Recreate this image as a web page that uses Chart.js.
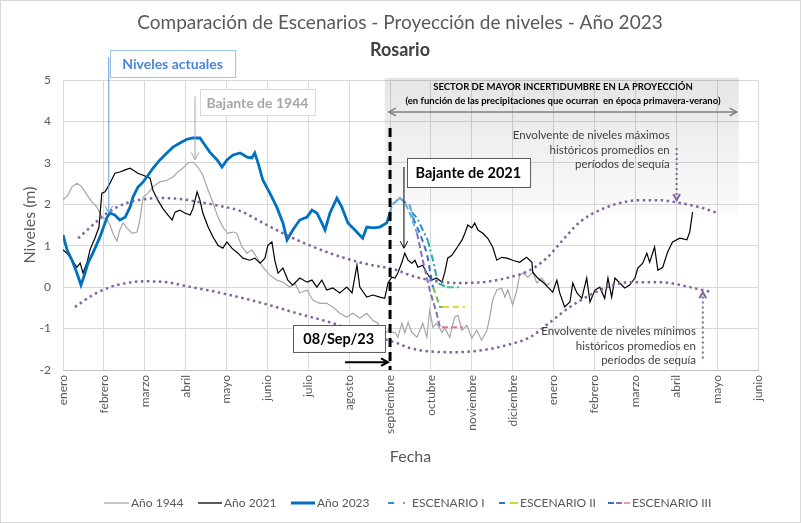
<!DOCTYPE html>
<html>
<head>
<meta charset="utf-8">
<script src="https://cdn.jsdelivr.net/npm/chart.js@4.4.0/dist/chart.umd.min.js"></script>
<style>
html, body { margin: 0; padding: 0; background: #fff; }
canvas { display: block; }
</style>
</head>
<body>
<canvas id="nivelesChart" width="801" height="523"></canvas>
<script>
// eje x en meses (0 = 1 de enero, 12 = 1 de enero del año siguiente)
const meses = ['enero', 'febrero', 'marzo', 'abril', 'mayo', 'junio', 'julio', 'agosto',
    'septiembre', 'octubre', 'noviembre', 'diciembre', 'enero', 'febrero', 'marzo', 'abril', 'mayo', 'junio'];

const anio1944 = [[0.00, 2.10], [0.12, 2.22], [0.22, 2.42], [0.34, 2.51], [0.46, 2.42], [0.59, 2.22], [0.71, 2.05],
    [0.83, 1.93], [0.95, 1.69], [1.08, 1.62], [1.15, 1.50], [1.22, 1.30], [1.32, 1.11], [1.39, 1.38], [1.47, 1.55],
    [1.56, 1.43], [1.69, 1.30], [1.81, 1.33], [1.88, 1.62], [1.96, 2.17], [2.08, 2.27], [2.20, 2.42], [2.37, 2.54],
    [2.54, 2.58], [2.69, 2.66], [2.81, 2.78], [2.93, 2.87], [3.06, 3.00], [3.18, 3.02], [3.30, 2.90], [3.42, 2.70],
    [3.55, 2.34], [3.67, 2.03], [3.79, 1.69], [3.91, 1.45], [4.03, 1.30], [4.16, 1.33], [4.25, 1.30], [4.38, 0.97],
    [4.50, 0.82], [4.62, 0.90], [4.74, 0.72], [4.89, 0.48], [5.06, 0.29], [5.23, 0.17], [5.38, 0.12], [5.55, 0.00],
    [5.67, 0.10], [5.79, -0.14], [5.97, -0.07], [6.11, -0.31], [6.28, -0.39], [6.45, -0.39], [6.60, -0.48],
    [6.77, -0.63], [6.94, -0.72], [7.09, -0.63], [7.26, -0.75], [7.43, -0.63], [7.58, -0.80], [7.70, -0.87],
    [7.82, -1.21], [7.95, -1.04], [8.04, -1.09], [8.12, -1.09], [8.19, -1.21], [8.29, -0.87], [8.36, -1.11],
    [8.44, -0.85], [8.53, -1.09], [8.66, -1.21], [8.73, -1.04], [8.80, -0.87], [8.90, -1.21], [8.97, -0.56],
    [9.05, -0.97], [9.14, -0.87], [9.27, -1.09], [9.34, -0.99], [9.46, -1.21], [9.58, -0.72], [9.66, -0.68],
    [9.76, -1.04], [9.88, -0.92], [10.00, -1.23], [10.12, -1.04], [10.24, -1.28], [10.37, -1.04], [10.44, -0.72],
    [10.51, -0.31], [10.61, -0.07], [10.73, -0.02], [10.81, -0.24], [10.88, -0.07], [11.00, -0.43], [11.10, -0.07],
    [11.17, 0.29], [11.25, 0.34], [11.37, 0.24], [11.49, 0.36], [11.59, 0.10], [11.71, 0.22], [11.83, 0.05],
    [11.91, 0.10]];

const anio2021 = [[0.00, 0.90], [0.10, 0.82], [0.22, 0.65], [0.34, 0.48], [0.42, 0.58], [0.49, 0.34], [0.59, 0.60],
    [0.66, 0.90], [0.78, 1.18], [0.88, 1.45], [0.95, 2.27], [1.03, 2.30], [1.15, 2.51], [1.27, 2.75], [1.39, 2.78],
    [1.52, 2.83], [1.64, 2.87], [1.71, 2.83], [1.83, 2.75], [1.96, 2.70], [2.13, 2.63], [2.20, 2.34], [2.32, 2.10],
    [2.44, 1.90], [2.57, 1.74], [2.67, 1.62], [2.74, 1.81], [2.86, 1.86], [2.98, 1.79], [3.11, 1.74], [3.18, 1.90],
    [3.28, 2.30], [3.35, 2.10], [3.42, 1.79], [3.55, 1.45], [3.67, 1.21], [3.79, 1.01], [3.91, 0.94], [4.01, 1.09],
    [4.13, 0.94], [4.28, 0.82], [4.40, 0.70], [4.57, 0.65], [4.69, 0.70], [4.82, 0.58], [4.94, 0.70], [5.01, 1.01],
    [5.11, 1.09], [5.18, 0.65], [5.26, 0.34], [5.38, 0.46], [5.50, 0.17], [5.62, 0.05], [5.79, 0.22], [5.97, 0.12],
    [6.09, 0.17], [6.21, 0.00], [6.33, 0.17], [6.45, -0.07], [6.60, -0.02], [6.77, -0.14], [6.94, 0.00],
    [7.07, -0.14], [7.19, 0.53], [7.26, 0.00], [7.43, -0.24], [7.58, -0.19], [7.75, -0.24], [7.87, -0.27],
    [7.95, 0.10], [8.04, 0.24], [8.12, 0.22], [8.19, 0.34], [8.29, 0.60], [8.36, 0.82], [8.44, 0.65], [8.53, 0.58],
    [8.61, 0.65], [8.68, 0.48], [8.80, 0.53], [8.90, 0.34], [9.02, 0.17], [9.14, 0.22], [9.27, 0.12], [9.34, 0.36],
    [9.41, 0.70], [9.51, 0.77], [9.63, 0.94], [9.76, 1.14], [9.83, 1.30], [9.90, 1.50], [10.00, 1.43], [10.07, 1.55],
    [10.15, 1.38], [10.27, 1.30], [10.39, 1.18], [10.51, 0.97], [10.61, 0.65], [10.73, 0.72], [10.86, 0.70],
    [11.00, 0.65], [11.17, 0.60], [11.34, 0.72], [11.47, 0.60], [11.49, 0.36], [11.61, 0.22], [11.74, 0.12],
    [11.86, 0.00], [11.98, -0.12], [12.08, 0.17], [12.15, -0.14], [12.27, -0.48], [12.40, -0.36], [12.47, 0.10],
    [12.57, -0.14], [12.69, -0.27], [12.81, 0.22], [12.89, -0.36], [13.01, -0.07], [13.13, 0.00], [13.25, -0.27],
    [13.33, 0.22], [13.42, -0.24], [13.50, 0.22], [13.62, 0.10], [13.74, -0.02], [13.86, 0.05], [13.99, 0.22],
    [14.06, 0.46], [14.18, 0.58], [14.28, 0.82], [14.35, 0.60], [14.47, 0.97], [14.55, 0.41], [14.67, 0.48],
    [14.79, 0.85], [14.91, 1.09], [15.09, 1.18], [15.26, 1.14], [15.33, 1.33], [15.40, 1.81]];

const anio2023 = [[0.00, 1.26], [0.10, 0.90], [0.22, 0.65], [0.34, 0.34], [0.44, 0.05], [0.54, 0.34], [0.61, 0.58],
    [0.73, 0.82], [0.90, 1.20], [1.08, 1.69], [1.15, 1.79], [1.27, 1.74], [1.39, 1.62], [1.52, 1.69], [1.64, 1.93],
    [1.71, 2.17], [1.83, 2.41], [1.96, 2.54], [2.08, 2.70], [2.20, 2.87], [2.37, 3.07], [2.54, 3.24], [2.69, 3.38],
    [2.86, 3.48], [3.03, 3.57], [3.18, 3.60], [3.35, 3.60], [3.47, 3.43], [3.59, 3.26], [3.77, 3.07], [3.89, 2.90],
    [4.01, 3.07], [4.16, 3.19], [4.33, 3.24], [4.50, 3.14], [4.62, 3.12], [4.69, 3.24], [4.77, 3.00], [4.89, 2.58],
    [5.06, 2.27], [5.23, 1.93], [5.38, 1.55], [5.48, 1.14], [5.62, 1.38], [5.79, 1.62], [5.97, 1.69], [6.09, 1.86],
    [6.21, 1.79], [6.33, 1.55], [6.41, 1.38], [6.53, 1.79], [6.70, 2.15], [6.82, 1.93], [6.97, 1.55], [7.14, 1.38],
    [7.33, 1.18], [7.43, 1.45], [7.58, 1.43], [7.75, 1.45], [7.92, 1.55], [8.00, 1.79]];

const escenario1 = [[8.00, 1.79], [8.04, 1.98], [8.12, 2.05], [8.24, 2.15], [8.36, 2.05], [8.48, 1.98], [8.53, 1.81],
    [8.66, 1.67], [8.80, 1.38], [8.92, 1.14], [9.05, 0.65], [9.17, 0.10], [9.39, 0.00], [9.76, 0.00]];
const escenario2 = [[8.00, 1.79], [8.04, 1.98], [8.12, 2.05], [8.24, 2.15], [8.36, 2.05], [8.48, 1.98], [8.56, 1.67],
    [8.73, 1.30], [8.90, 0.82], [9.05, 0.00], [9.14, -0.24], [9.22, -0.48], [9.29, -0.48], [9.83, -0.48]];
const escenario3 = [[8.00, 1.79], [8.04, 1.98], [8.12, 2.05], [8.24, 2.15], [8.36, 2.05], [8.48, 1.79], [8.66, 1.30],
    [8.80, 0.65], [8.97, -0.07], [9.14, -0.63], [9.22, -0.97], [9.27, -0.97], [9.78, -0.97]];

const envolventeMax = [[0.37, 1.18], [0.73, 1.50], [1.08, 1.79], [1.56, 2.03], [2.05, 2.13], [2.37, 2.15], [2.86, 2.13],
    [3.35, 2.05], [3.84, 1.96], [4.33, 1.84], [4.89, 1.55], [5.72, 1.14], [6.53, 0.82], [7.33, 0.58], [8.17, 0.41],
    [8.48, 0.29], [8.97, 0.17], [9.63, 0.10], [10.27, 0.12], [10.93, 0.24], [11.42, 0.41], [11.83, 0.70],
    [12.15, 1.05], [12.64, 1.57], [13.13, 1.86], [13.62, 2.03], [14.11, 2.10], [14.60, 2.10], [15.09, 2.03],
    [15.57, 1.93], [16.01, 1.79]];
const envolventeMin = [[0.29, -0.48], [0.73, -0.19], [1.15, 0.00], [1.56, 0.10], [1.96, 0.14], [2.54, 0.12],
    [3.03, 0.02], [3.52, -0.07], [4.08, -0.19], [4.89, -0.39], [5.72, -0.63], [6.53, -0.85], [7.33, -1.11],
    [8.17, -1.35], [8.48, -1.47], [8.97, -1.55], [9.63, -1.57], [10.27, -1.52], [10.93, -1.38], [11.42, -1.21],
    [11.91, -0.85], [12.40, -0.48], [12.89, -0.19], [13.37, 0.02], [13.86, 0.12], [14.35, 0.12], [14.84, 0.10],
    [15.33, 0.00], [15.87, -0.12]];

const FONT = 'Lato, "Open Sans", sans-serif';
const GRIS = '#595959';
const AZUL_CLARO = '#6aaee0';

function colorTramo(cortes, colores) {
    return ctx => {
        const x = ctx.p0.parsed.x;
        for (let i = 0; i < cortes.length; i++) {
            if (x < cortes[i]) return colores[i];
        }
        return colores[colores.length - 1];
    };
}

function flecha(ctx, x1, y1, x2, y2, color, ancho, dash, punta, ambas) {
    ctx.save();
    ctx.strokeStyle = color;
    ctx.lineWidth = ancho;
    ctx.setLineDash(dash || []);
    ctx.beginPath();
    ctx.moveTo(x1, y1);
    ctx.lineTo(x2, y2);
    ctx.stroke();
    ctx.setLineDash([]);
    const cabeza = (xa, ya, xb, yb) => {
        const a = Math.atan2(yb - ya, xb - xa);
        ctx.beginPath();
        ctx.moveTo(xb - punta * Math.cos(a - 0.5), yb - punta * Math.sin(a - 0.5));
        ctx.lineTo(xb, yb);
        ctx.lineTo(xb - punta * Math.cos(a + 0.5), yb - punta * Math.sin(a + 0.5));
        ctx.stroke();
    };
    cabeza(x1, y1, x2, y2);
    if (ambas) cabeza(x2, y2, x1, y1);
    ctx.restore();
}

function caja(ctx, x1, y1, x2, y2, borde, texto, color, fuente) {
    ctx.save();
    ctx.fillStyle = '#fff';
    ctx.fillRect(x1, y1, x2 - x1, y2 - y1);
    ctx.strokeStyle = borde;
    ctx.lineWidth = 1;
    ctx.strokeRect(Math.round(x1) + 0.5, Math.round(y1) + 0.5, x2 - x1, y2 - y1);
    ctx.fillStyle = color;
    ctx.font = fuente;
    ctx.textAlign = 'center';
    ctx.textBaseline = 'middle';
    ctx.fillText(texto, (x1 + x2) / 2, (y1 + y2) / 2 + 1);
    ctx.restore();
}

const notasPlugin = {
    id: 'notas',
    beforeDraw(chart) {
        const ctx = chart.ctx;
        ctx.save();
        ctx.fillStyle = '#fff';
        ctx.fillRect(0, 0, chart.width, chart.height);
        ctx.restore();
    },
    beforeDatasetsDraw(chart) {
        const {ctx, scales: {x, y}} = chart;
        const x1 = x.getPixelForValue(7.87), x2 = x.getPixelForValue(16.53);
        const y1 = y.getPixelForValue(5.05), y2 = y.getPixelForValue(1.75);
        const g = ctx.createLinearGradient(0, y1, 0, y2);
        g.addColorStop(0, 'rgba(0,0,0,0.10)');
        g.addColorStop(1, 'rgba(0,0,0,0.015)');
        ctx.save();
        ctx.fillStyle = g;
        ctx.fillRect(x1, y1, x2 - x1, y2 - y1);
        ctx.restore();
    },
    afterDatasetsDraw(chart) {
        const {ctx, scales: {x, y}} = chart;
        const px = v => x.getPixelForValue(v);
        const py = v => y.getPixelForValue(v);

        // fecha actual
        ctx.save();
        ctx.strokeStyle = '#000';
        ctx.lineWidth = 3;
        ctx.setLineDash([9, 5]);
        ctx.beginPath();
        ctx.moveTo(px(8.0), py(3.84));
        ctx.lineTo(px(8.0), py(-2));
        ctx.stroke();
        ctx.restore();

        // sector de incertidumbre
        ctx.save();
        ctx.fillStyle = '#000';
        ctx.font = 'bold 9.5px ' + FONT;
        ctx.textAlign = 'center';
        ctx.textBaseline = 'middle';
        ctx.fillText('SECTOR DE MAYOR INCERTIDUMBRE EN LA PROYECCIÓN', px(12.23), py(4.83));
        ctx.fillText('(en función de las precipitaciones que ocurran  en época primavera-verano)', px(12.23), py(4.49));
        ctx.restore();
        flecha(ctx, px(7.97), py(4.23), px(16.48), py(4.23), '#808080', 1.5, null, 8, true);

        // niveles actuales
        flecha(ctx, px(1.12), py(5.55), px(1.12), py(1.79), '#5b9bd5', 1, null, 8, false);
        caja(ctx, px(1.15), py(5.72), px(4.21), py(5.07), '#9dc3e6', 'Niveles actuales', '#4a86d8', 'bold 14px ' + FONT);

        // bajante 1944
        flecha(ctx, px(3.23), py(4.6), px(3.23), py(3.08), '#a6a6a6', 1, null, 8, false);
        caja(ctx, px(3.35), py(4.78), px(6.16), py(4.15), '#d9d9d9', 'Bajante de 1944', '#a6a6a6', 'bold 14px ' + FONT);

        // bajante 2021
        flecha(ctx, px(8.34), py(2.9), px(8.34), py(0.94), '#000', 1, null, 8, false);
        caja(ctx, px(8.41), py(3.12), px(11.42), py(2.42), '#595959', 'Bajante de 2021', '#000', 'bold 14.5px ' + FONT);

        // 08/Sep/23
        caja(ctx, px(5.62), py(-0.92), px(7.87), py(-1.57), '#595959', '08/Sep/23', '#000', 'bold 14.5px ' + FONT);
        flecha(ctx, px(6.9), py(-1.81), px(7.95), py(-1.81), '#000', 2, null, 8, false);

        // envolventes
        ctx.save();
        ctx.fillStyle = '#404040';
        ctx.font = '11.5px ' + FONT;
        ctx.textAlign = 'right';
        ctx.textBaseline = 'middle';
        ctx.fillText('Envolvente de niveles máximos', px(14.84), py(3.67));
        ctx.fillText('históricos promedios en', px(14.84), py(3.31));
        ctx.fillText('períodos de sequía', px(14.84), py(2.97));
        ctx.fillText('Envolvente de niveles mínimos', px(15.48), py(-1.06));
        ctx.fillText('históricos promedios en', px(15.48), py(-1.43));
        ctx.fillText('períodos de sequía', px(15.48), py(-1.77));
        ctx.restore();
        flecha(ctx, px(15.01), py(3.36), px(15.01), py(2.10), '#8064a2', 2, [2, 3], 7, false);
        flecha(ctx, px(15.65), py(-1.72), px(15.65), py(-0.12), '#8064a2', 2, [2, 3], 7, false);
    },
    afterDraw(chart) {
        const {ctx, chartArea} = chart;
        ctx.save();
        // títulos
        ctx.textAlign = 'center';
        ctx.textBaseline = 'middle';
        ctx.fillStyle = GRIS;
        ctx.font = '19px ' + FONT;
        ctx.fillText('Comparación de Escenarios - Proyección de niveles - Año 2023', 400, 23);
        ctx.fillStyle = '#404040';
        ctx.font = 'bold 18px ' + FONT;
        ctx.fillText('Rosario', 400, 50);
        // títulos de ejes
        ctx.fillStyle = GRIS;
        ctx.font = '16px ' + FONT;
        ctx.fillText('Fecha', (chartArea.left + chartArea.right) / 2, 457);
        ctx.translate(30, (chartArea.top + chartArea.bottom) / 2);
        ctx.rotate(-Math.PI / 2);
        ctx.fillText('Niveles (m)', 0, 0);
        ctx.restore();

        // leyenda
        ctx.save();
        ctx.font = '12px ' + FONT;
        ctx.fillStyle = GRIS;
        ctx.textBaseline = 'middle';
        const ly = 503;
        const linea = (x1, x2, color, ancho) => {
            ctx.strokeStyle = color;
            ctx.lineWidth = ancho;
            ctx.beginPath();
            ctx.moveTo(x1, ly);
            ctx.lineTo(x2, ly);
            ctx.stroke();
        };
        linea(104, 129, '#a6a6a6', 1.3);
        ctx.fillText('Año 1944', 131, ly);
        linea(198, 222, '#000', 1.3);
        ctx.fillText('Año 2021', 224, ly);
        linea(291, 315, '#0070c0', 3);
        ctx.fillText('Año 2023', 317, ly);
        linea(388, 394, '#2e8fcf', 2);
        linea(403, 405, '#49b8a8', 2);
        ctx.fillText('ESCENARIO I', 412, ly);
        linea(499, 505, '#2e75c6', 2);
        linea(510, 518, '#c9d82a', 2);
        ctx.fillText('ESCENARIO II', 520, ly);
        linea(608, 614, '#2e75c6', 2);
        linea(616, 622, '#8a6fb5', 2);
        linea(624, 630, '#e9a0a8', 2);
        ctx.fillText('ESCENARIO III', 632, ly);
        // borde del gráfico
        ctx.strokeStyle = '#d9d9d9';
        ctx.lineWidth = 1;
        ctx.strokeRect(0.5, 0.5, chart.width - 1, chart.height - 1);
        ctx.restore();
    }
};

const serie = (label, data, color, width, order) => ({
    label, data, borderColor: color, borderWidth: width, pointRadius: 0, fill: false, tension: 0, order
});

const ctx = document.getElementById('nivelesChart').getContext('2d');
const nivelesChart = new Chart(ctx, {
    type: 'line',
    data: {
        datasets: [
            serie('Año 1944', anio1944, '#a6a6a6', 1.2, 6),
            serie('Año 2021', anio2021, '#000000', 1.2, 5),
            serie('Año 2023', anio2023, '#0070c0', 2.8, 4),
            {
                ...serie('ESCENARIO I', escenario1, '#2e8fcf', 2, 3),
                borderDash: [7, 3, 2, 3],
                segment: {borderColor: colorTramo([8.5, 8.9, 9.2], [AZUL_CLARO, '#2e8fcf', '#2aa7a8', '#49b8a8'])}
            },
            {
                ...serie('ESCENARIO II', escenario2, '#2e75c6', 2, 2),
                borderDash: [6, 4],
                segment: {borderColor: colorTramo([8.5, 8.95, 9.25], [AZUL_CLARO, '#2e75c6', '#6dbe4b', '#d6dc2a'])}
            },
            {
                ...serie('ESCENARIO III', escenario3, '#8a6fb5', 2, 1),
                borderDash: [6, 3],
                segment: {borderColor: colorTramo([8.5, 9.25], [AZUL_CLARO, '#8a6fb5', '#e07a85'])}
            },
            {
                ...serie('Envolvente máx', envolventeMax, '#8064a2', 2.5, 0),
                borderDash: [2.5, 3.5], cubicInterpolationMode: 'monotone'
            },
            {
                ...serie('Envolvente mín', envolventeMin, '#8064a2', 2.5, 0),
                borderDash: [2.5, 3.5], cubicInterpolationMode: 'monotone'
            }
        ]
    },
    options: {
        responsive: false,
        animation: false,
        devicePixelRatio: 1,
        layout: {padding: {top: 80, right: 43, bottom: 0, left: 0}},
        plugins: {
            legend: {display: false},
            title: {display: false},
            tooltip: {enabled: false}
        },
        scales: {
            x: {
                type: 'linear',
                min: 0,
                max: 17,
                afterFit: s => { s.height = 153; },
                ticks: {
                    stepSize: 1,
                    autoSkip: false,
                    minRotation: 90,
                    maxRotation: 90,
                    padding: 5,
                    color: GRIS,
                    font: {family: FONT, size: 12},
                    callback: v => meses[v]
                },
                grid: {color: '#d9d9d9', drawTicks: false},
                border: {color: '#bfbfbf'}
            },
            y: {
                min: -2,
                max: 5,
                afterFit: s => { s.width = 63; },
                ticks: {
                    stepSize: 1,
                    padding: 12,
                    color: GRIS,
                    font: {family: FONT, size: 12}
                },
                grid: {color: '#d9d9d9', drawTicks: false},
                border: {color: '#d9d9d9'}
            }
        }
    },
    plugins: [notasPlugin]
});
</script>
</body>
</html>
